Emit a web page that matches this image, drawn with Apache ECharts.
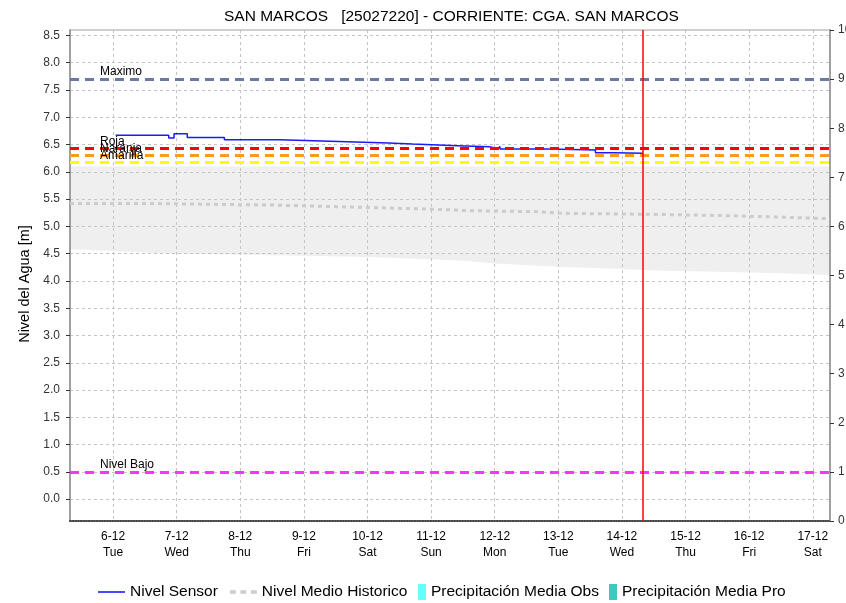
<!DOCTYPE html>
<html>
<head>
<meta charset="utf-8">
<style>
  html, body { margin: 0; padding: 0; background: #fff; }
  #chart { width: 846px; height: 603px; }
</style>
<script src="https://cdn.jsdelivr.net/npm/echarts@6/dist/echarts.min.js"></script>
</head>
<body>
<div id="chart"></div>
<script>
// day ticks on the x axis
const dayTicks = ['2022-12-06', '2022-12-07', '2022-12-08', '2022-12-09', '2022-12-10', '2022-12-11',
  '2022-12-12', '2022-12-13', '2022-12-14', '2022-12-15', '2022-12-16', '2022-12-17'];
const dayLabels = ['6-12', '7-12', '8-12', '9-12', '10-12', '11-12', '12-12', '13-12', '14-12', '15-12', '16-12', '17-12'];
const dayNames = ['Tue', 'Wed', 'Thu', 'Fri', 'Sat', 'Sun', 'Mon', 'Tue', 'Wed', 'Thu', 'Fri', 'Sat'];
const levelTicks = [0, 0.5, 1, 1.5, 2, 2.5, 3, 3.5, 4, 4.5, 5, 5.5, 6, 6.5, 7, 7.5, 8, 8.5];

// Nivel Sensor (m)
const sensorTimes = ['2022-12-06T01:00', '2022-12-06T21:00', '2022-12-06T23:00', '2022-12-07T04:00',
  '2022-12-07T18:00', '2022-12-08T15:00', '2022-12-09T10:00', '2022-12-10T08:00', '2022-12-10T17:00',
  '2022-12-11T10:00', '2022-12-11T22:00', '2022-12-12T01:00', '2022-12-12T02:00', '2022-12-12T20:00',
  '2022-12-13T14:00', '2022-12-13T21:00', '2022-12-14T08:00'];
const sensorValues = [6.67, 6.62, 6.70, 6.63, 6.59, 6.56, 6.53, 6.51, 6.48, 6.46, 6.43, 6.46, 6.42, 6.40,
  6.35, 6.34, 6.34];

// Nivel Medio Historico (m)
const histTimes = ['2022-12-05T07:45', '2022-12-06T14:00', '2022-12-08T13:00', '2022-12-09T14:00',
  '2022-12-10T13:00', '2022-12-11T04:00', '2022-12-11T13:00', '2022-12-12T16:00', '2022-12-13T01:00',
  '2022-12-14T13:00', '2022-12-15T13:00', '2022-12-16T12:00', '2022-12-17T06:30'];
const histValues = [5.42, 5.39, 5.36, 5.33, 5.31, 5.29, 5.27, 5.24, 5.22, 5.20, 5.17, 5.14, 5.13];

// historic range band (gray)
const bandTimes = ['2022-12-05T07:45', '2022-12-06T00:00', '2022-12-06T22:00', '2022-12-08T00:00',
  '2022-12-09T00:00', '2022-12-10T00:00', '2022-12-11T00:00', '2022-12-11T12:00', '2022-12-12T00:00',
  '2022-12-13T00:00', '2022-12-14T00:00', '2022-12-14T12:00', '2022-12-15T12:00', '2022-12-16T12:00',
  '2022-12-17T06:30'];
const bandLow = [4.58, 4.55, 4.50, 4.48, 4.46, 4.44, 4.40, 4.37, 4.32, 4.26, 4.22, 4.19, 4.17, 4.14, 4.11];
const bandHigh = [6.1, 6.1, 6.1, 6.1, 6.1, 6.1, 6.1, 6.1, 6.1, 6.1, 6.1, 6.1, 6.1, 6.1, 6.1];

// precipitation (right axis) - none in this period
const precipObs = [];
const precipPro = [];

// alert levels
const thresholdNames = ['Maximo', 'Roja', 'Naranja', 'Amarilla', 'Nivel Bajo'];
const thresholdValues = [7.7, 6.43, 6.3, 6.17, 0.5];
const thresholdColors = ['#6b7aa3', '#ff0000', '#ff9a1a', '#ffff00', '#ff33ff'];

const nowTime = '2022-12-14T08:00';
const rangeStart = '2022-12-05T07:45';
const rangeEnd = '2022-12-17T06:30';

const ts = s => Date.parse((s.length === 10 ? s + 'T00:00' : s) + ':00Z');
const pairs = (times, vals) => times.map((t, i) => [ts(t), vals[i]]);
const dayTickValues = dayTicks.map(ts);

const FONT = 'Liberation Sans, Arial, sans-serif';
const chart = echarts.init(document.getElementById('chart'));

const thresholdLines = thresholdNames.map((name, i) => ({
  name: name,
  yAxis: thresholdValues[i],
  lineStyle: { color: thresholdColors[i], type: [9, 6], width: 3 },
  label: { show: true, formatter: name, position: 'insideStartTop', distance: [30, 1],
    color: '#000', fontSize: 12, fontFamily: FONT }
}));

const option = {
  animation: false,
  backgroundColor: '#fff',
  title: {
    text: 'SAN MARCOS   [25027220] - CORRIENTE: CGA. SAN MARCOS',
    left: 219,
    top: 4,
    textStyle: { fontSize: 15.5, fontWeight: 'normal', color: '#000', fontFamily: FONT }
  },
  legend: [
    {
      left: 93,
      top: 579,
      itemGap: 12,
      itemWidth: 27,
      itemHeight: 16,
      textStyle: { fontSize: 15.5, color: '#000', fontFamily: FONT },
      data: [
        { name: 'Nivel Sensor', icon: 'path://M0,0h27v1.6h-27z' },
        { name: 'Nivel Medio Historico', icon: 'path://M0,0h5v3h-5zM9,0h5v3h-5zM18,0h5v3h-5z' }
      ]
    },
    {
      left: 413,
      top: 579,
      itemGap: 10,
      itemWidth: 8,
      itemHeight: 16,
      icon: 'rect',
      textStyle: { fontSize: 15.5, color: '#000', fontFamily: FONT },
      data: ['Precipitación Media Obs', 'Precipitación Media Pro']
    }
  ],
  grid: {
    left: 70, right: 16, top: 30, bottom: 82,
    outerBoundsMode: 'none',
    show: true, borderColor: '#a0a0a0', borderWidth: 1
  },
  xAxis: {
    type: 'value',
    z: 1,
    min: ts(rangeStart),
    max: ts(rangeEnd),
    axisLine: { show: true, onZero: false, lineStyle: { color: '#444', width: 2, type: [1, 1.65] } },
    axisTick: { show: false, customValues: dayTickValues },
    splitLine: { show: true, lineStyle: { color: '#c4c4c4', type: [3, 3], width: 1 } },
    axisLabel: {
      customValues: dayTickValues,
      color: '#000', fontSize: 12, fontFamily: FONT, lineHeight: 16, margin: 8,
      formatter: v => {
        const i = dayTickValues.indexOf(v);
        return i >= 0 ? dayLabels[i] + '\n' + dayNames[i] : '';
      }
    }
  },
  yAxis: [
    {
      type: 'value',
      z: 1,
      min: -0.4,
      max: 8.6,
      name: 'Nivel del Agua [m]',
      nameLocation: 'middle',
      nameGap: 29,
      nameTextStyle: { fontSize: 14.5, color: '#000', fontFamily: FONT, padding: [0, 17, 0, 0] },
      axisLine: { show: true, lineStyle: { color: '#a0a0a0', width: 2 } },
      axisTick: { show: true, length: 4, lineStyle: { color: '#333' }, customValues: levelTicks },
      axisLabel: { customValues: levelTicks, color: '#333', fontSize: 12, fontFamily: FONT, margin: 10,
        formatter: v => v.toFixed(1) },
      splitLine: { show: true, lineStyle: { color: '#c4c4c4', type: [3, 3], width: 1 } }
    },
    {
      type: 'value',
      z: 1,
      min: 0,
      max: 10,
      interval: 1,
      position: 'right',
      axisLine: { show: true, lineStyle: { color: '#a0a0a0', width: 2 } },
      axisTick: { show: true, length: 4, lineStyle: { color: '#333' } },
      axisLabel: { color: '#333', fontSize: 12, fontFamily: FONT, margin: 8 },
      splitLine: { show: false }
    }
  ],
  series: [
    {
      // gray band of the historic range, drawn as one polygon through the axes
      type: 'custom',
      silent: true,
      z: 0,
      data: pairs(bandTimes, bandLow),
      renderItem: (params, api) => {
        if (params.dataIndex !== 0) return null;
        const top = bandTimes.map((t, i) => api.coord([ts(t), bandHigh[i]]));
        const bottom = bandTimes.map((t, i) => api.coord([ts(t), bandLow[i]])).reverse();
        return {
          type: 'polygon',
          shape: { points: top.concat(bottom) },
          style: { fill: '#efefef' }
        };
      }
    },
    {
      name: 'Nivel Medio Historico',
      type: 'line',
      step: 'end',
      data: pairs(histTimes, histValues),
      symbol: 'none',
      color: '#cccccc',
      lineStyle: { color: '#cccccc', width: 3, type: [4, 4] },
      z: 2
    },
    {
      name: 'Nivel Sensor',
      type: 'line',
      step: 'end',
      data: pairs(sensorTimes, sensorValues),
      symbol: 'none',
      color: '#1a1aff',
      lineStyle: { color: '#1a1aff', width: 1.5 },
      z: 3,
      markLine: {
        silent: true,
        symbol: 'none',
        animation: false,
        data: thresholdLines.concat([{
          xAxis: ts(nowTime),
          lineStyle: { color: '#ff0000', type: 'solid', width: 1.5 },
          label: { show: false }
        }])
      }
    },
    {
      name: 'Precipitación Media Obs',
      type: 'bar',
      yAxisIndex: 1,
      color: '#66ffff',
      data: precipObs
    },
    {
      name: 'Precipitación Media Pro',
      type: 'bar',
      yAxisIndex: 1,
      color: '#40c8c0',
      data: precipPro
    }
  ]
};

chart.setOption(option);
</script>
</body>
</html>
